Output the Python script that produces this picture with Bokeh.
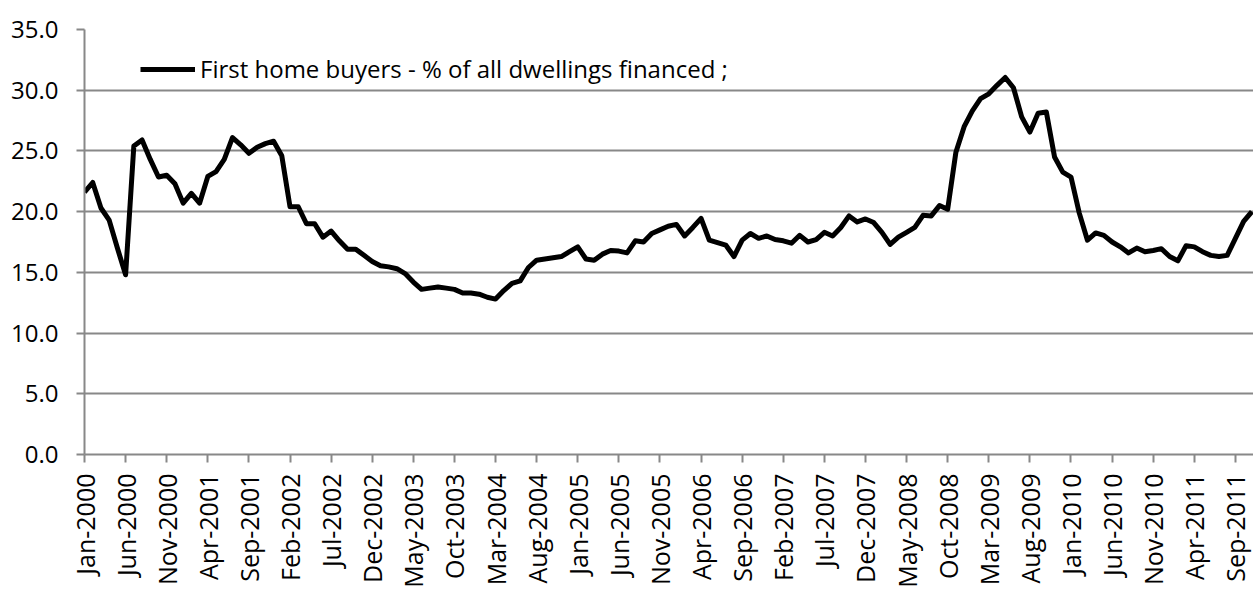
from bokeh.plotting import figure
from bokeh.models import (Range1d, FixedTicker, NumeralTickFormatter, Legend, LegendItem)
from bokeh.embed import file_html
from bokeh.resources import INLINE

# Monthly series, Jan-2000 onwards
month_index = list(range(143))
first_home_buyers_pct = [
    21.6, 22.4, 20.3, 19.3, 17.0, 14.8, 25.4, 25.9, 24.3, 22.85,
    23.0, 22.3, 20.7, 21.5, 20.7, 22.9, 23.3, 24.3, 26.1, 25.5,
    24.8, 25.3, 25.6, 25.8, 24.6, 20.4, 20.4, 19.0, 19.0, 17.9,
    18.4, 17.6, 16.9, 16.9, 16.4, 15.9, 15.55, 15.45, 15.3, 14.9,
    14.2, 13.6, 13.7, 13.8, 13.7, 13.6, 13.3, 13.3, 13.2, 12.95,
    12.8, 13.5, 14.1, 14.3, 15.4, 16.0, 16.1, 16.2, 16.3, 16.7,
    17.1, 16.1, 16.0, 16.5, 16.8, 16.75, 16.6, 17.6, 17.5, 18.2,
    18.5, 18.8, 18.95, 18.0, 18.7, 19.45, 17.65, 17.45, 17.25, 16.3,
    17.65, 18.2, 17.8, 18.0, 17.7, 17.6, 17.4, 18.05, 17.5, 17.7,
    18.3, 18.0, 18.7, 19.65, 19.15, 19.4, 19.1, 18.3, 17.3, 17.9,
    18.3, 18.7, 19.7, 19.65, 20.5, 20.2, 24.9, 27.0, 28.3, 29.3,
    29.7, 30.4, 31.05, 30.2, 27.8, 26.55, 28.1, 28.2, 24.5, 23.25,
    22.85, 19.9, 17.65, 18.25, 18.05, 17.5, 17.1, 16.6, 17.0, 16.7,
    16.8, 16.95, 16.3, 15.95, 17.2, 17.1, 16.7, 16.4, 16.3, 16.4,
    17.8, 19.2, 20.0,
]

tick_positions = list(range(0, 141, 5))
tick_labels = [
    "Jan-2000", "Jun-2000", "Nov-2000", "Apr-2001", "Sep-2001", "Feb-2002",
    "Jul-2002", "Dec-2002", "May-2003", "Oct-2003", "Mar-2004", "Aug-2004",
    "Jan-2005", "Jun-2005", "Nov-2005", "Apr-2006", "Sep-2006", "Feb-2007",
    "Jul-2007", "Dec-2007", "May-2008", "Oct-2008", "Mar-2009", "Aug-2009",
    "Jan-2010", "Jun-2010", "Nov-2010", "Apr-2011", "Sep-2011",
]
y_ticks = [0, 5, 10, 15, 20, 25, 30, 35]
series_label = "First home buyers - % of all dwellings financed ;"

FONT = "Open Sans"
GRAY = "#888888"

p = figure(width=1253, height=590,
           x_range=Range1d(0, 142.2), y_range=Range1d(0, 35),
           output_backend="svg", toolbar_location=None,
           min_border_left=84, min_border_right=0,
           min_border_top=29, min_border_bottom=135)
p.outline_line_color = None
p.background_fill_color = "white"

r = p.line(month_index, first_home_buyers_pct, line_color="black",
           line_width=5, line_join="round")

p.xgrid.visible = False
p.ygrid.grid_line_color = GRAY
p.ygrid.grid_line_width = 2
p.ygrid.ticker = FixedTicker(ticks=y_ticks)

xa = p.xaxis[0]
xa.ticker = FixedTicker(ticks=tick_positions)
xa.major_label_overrides = {pos: lab for pos, lab in zip(tick_positions, tick_labels)}
xa.major_label_orientation = 3.14159265 / 2
xa.major_label_text_font = FONT
xa.major_label_text_font_size = "25px"
xa.major_label_text_color = "black"
xa.major_label_standoff = 11

ya = p.yaxis[0]
ya.ticker = FixedTicker(ticks=y_ticks)
ya.formatter = NumeralTickFormatter(format="0.0")
ya.major_label_text_font = FONT
ya.major_label_text_font_size = "24px"
ya.major_label_text_color = "black"
ya.major_label_standoff = 18

for ax in (xa, ya):
    ax.axis_line_color = GRAY
    ax.axis_line_width = 2
    ax.major_tick_line_color = GRAY
    ax.major_tick_line_width = 2
    ax.major_tick_in = 0
    ax.major_tick_out = 8
    ax.minor_tick_line_color = None

legend = Legend(items=[LegendItem(label=series_label, renderers=[r])],
                location=(56, 369))
legend.background_fill_alpha = 0
legend.border_line_color = None
legend.padding = 0
legend.margin = 0
legend.glyph_width = 55
legend.glyph_height = 20
legend.label_standoff = 5
legend.label_text_font = FONT
legend.label_text_font_size = "24px"
legend.label_text_color = "black"
p.add_layout(legend)

open("out.html", "w").write(file_html(p, INLINE))
